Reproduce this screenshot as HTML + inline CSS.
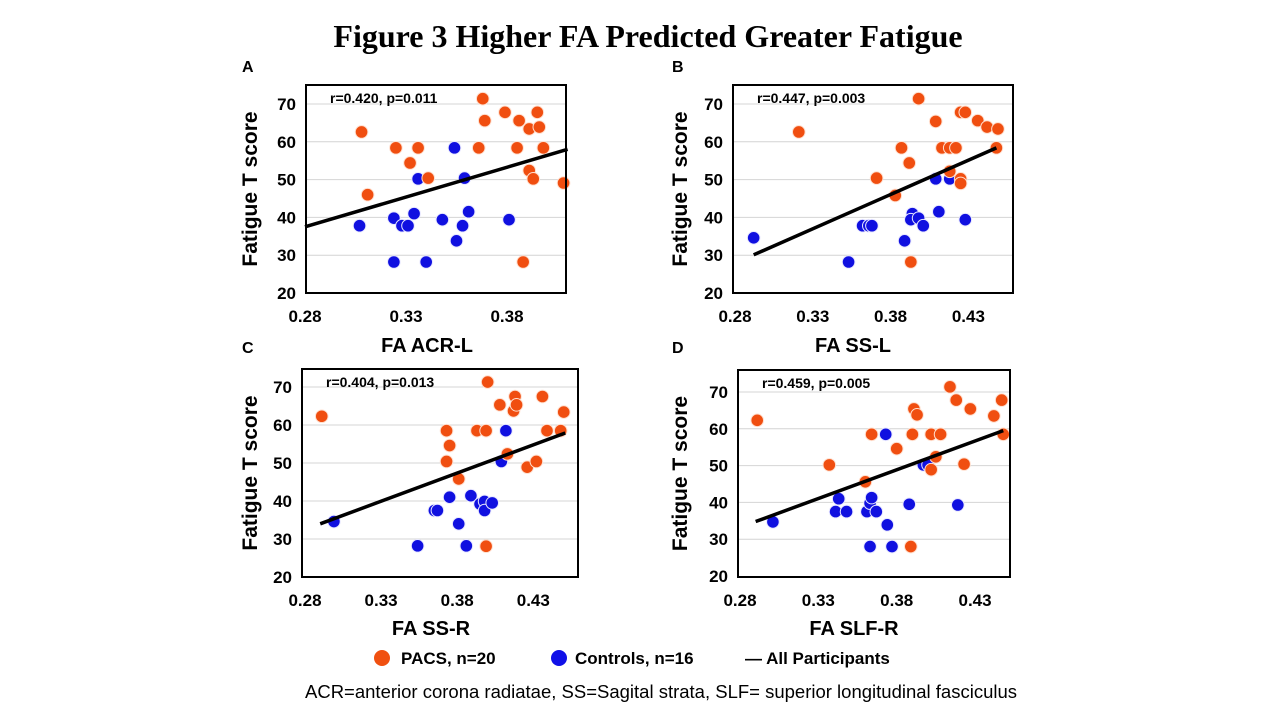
<!DOCTYPE html>
<html><head><meta charset="utf-8">
<style>
body{margin:0;background:#fff;}
svg{display:block;font-family:"Liberation Sans",Arial,sans-serif;}
</style></head>
<body>
<svg id="fig" width="1280" height="720" viewBox="0 0 1280 720">
<text x="648" y="47" text-anchor="middle" font-family="Liberation Serif,serif" font-weight="bold" font-size="32">Figure 3 Higher FA Predicted Greater Fatigue</text>
<g>
<circle cx="382" cy="658" r="8" fill="#f05010"/>
<text x="401" y="664" font-weight="bold" font-size="17">PACS, n=20</text>
<circle cx="559" cy="658" r="8" fill="#1010e8"/>
<text x="575" y="664" font-weight="bold" font-size="17">Controls, n=16</text>
<text x="745" y="664" font-weight="bold" font-size="17">— All Participants</text>
</g>
<text x="661" y="698" text-anchor="middle" font-size="18.5" textLength="712" lengthAdjust="spacingAndGlyphs">ACR=anterior corona radiatae, SS=Sagital strata, SLF= superior longitudinal fasciculus</text>
</svg>
<script>
// Panel A data
const aPacsX=[0.308,0.311,0.325,0.336,0.332,0.341,0.368,0.369,0.366,0.379,0.386,0.385,0.391,0.395,0.396,0.398,0.391,0.393,0.388,0.408];
const aPacsY=[62.6,46,58.4,58.4,54.4,50.4,71.4,65.6,58.4,67.8,65.6,58.4,63.4,67.8,63.9,58.4,52.4,50.2,28.2,49.1];
const aCtrlX=[0.307,0.324,0.328,0.331,0.334,0.336,0.324,0.340,0.348,0.354,0.355,0.358,0.359,0.361,0.381];
const aCtrlY=[37.8,39.8,37.8,37.8,41,50.2,28.2,28.2,39.4,58.4,33.8,37.8,50.4,41.5,39.4];
const aLineX=[0.28,0.41];const aLineY=[37.5,58];
// Panel B data
const bPacsX=[0.321,0.371,0.383,0.387,0.392,0.398,0.393,0.409,0.413,0.418,0.422,0.418,0.425,0.428,0.425,0.425,0.436,0.442,0.449,0.448];
const bPacsY=[62.6,50.4,45.8,58.4,54.4,71.4,28.2,65.4,58.4,58.4,58.4,52.2,67.8,67.8,50.2,49,65.6,63.9,63.4,58.4];
const bCtrlX=[0.292,0.353,0.362,0.366,0.368,0.389,0.394,0.393,0.398,0.401,0.409,0.411,0.418,0.428];
const bCtrlY=[34.6,28.2,37.8,37.8,37.8,33.8,41,39.4,39.8,37.8,50.2,41.5,50.2,39.4];
const bLineX=[0.292,0.448];const bLineY=[30.1,58.4];
// Panel C data
const cPacsX=[0.291,0.373,0.375,0.373,0.381,0.393,0.399,0.400,0.399,0.408,0.413,0.417,0.418,0.419,0.426,0.432,0.436,0.439,0.448,0.450];
const cPacsY=[62.3,58.5,54.6,50.4,45.8,58.5,58.5,71.3,28.1,65.3,52.4,63.7,67.5,65.3,48.9,50.4,67.5,58.5,58.5,63.4];
const cCtrlX=[0.299,0.354,0.365,0.367,0.375,0.381,0.386,0.389,0.395,0.398,0.398,0.403,0.409,0.412];
const cCtrlY=[34.6,28.2,37.5,37.5,41,34,28.2,41.4,39.2,39.9,37.5,39.5,50.4,58.5];
const cLineX=[0.290,0.451];const cLineY=[34.0,57.9];
// Panel D data
const dPacsX=[0.291,0.337,0.360,0.364,0.380,0.390,0.391,0.393,0.389,0.402,0.402,0.405,0.408,0.414,0.418,0.423,0.427,0.442,0.447,0.448];
const dPacsY=[62.3,50.2,45.6,58.5,54.6,58.5,65.4,63.8,28,58.5,48.9,52.4,58.5,71.4,67.8,50.4,65.4,63.5,67.8,58.5];
const dCtrlX=[0.301,0.341,0.343,0.348,0.361,0.363,0.363,0.364,0.367,0.373,0.374,0.377,0.388,0.397,0.400,0.419];
const dCtrlY=[34.7,37.5,41,37.5,37.5,28,39.8,41.3,37.5,58.5,33.9,28,39.5,50.2,50.2,39.3];
const dLineX=[0.290,0.448];const dLineY=[34.8,59.5];
const yTicks=[20,30,40,50,60,70];
const xTicks=[0.28,0.33,0.38,0.43];

const NS="http://www.w3.org/2000/svg";
const svg=document.getElementById('fig');
function mk(tag,attrs,parent){const e=document.createElementNS(NS,tag);for(const k in attrs)e.setAttribute(k,attrs[k]);parent.appendChild(e);return e;}

const panels=[
 {id:'a',letter:'A',L:306,R:566,T:85,B:293,x0:305,xs:2020,y20:293,y70:104,stat:'r=0.420, p=0.011',xt:'FA ACR-L',xtY:352,lx:242,ly:72,ytx:257,pX:aPacsX,pY:aPacsY,cX:aCtrlX,cY:aCtrlY,lX:aLineX,lY:aLineY,maxT:3},
 {id:'b',letter:'B',L:733,R:1013,T:85,B:293,x0:735,xs:1556,y20:293,y70:104,stat:'r=0.447, p=0.003',xt:'FA SS-L',xtY:352,lx:672,ly:72,ytx:687,pX:bPacsX,pY:bPacsY,cX:bCtrlX,cY:bCtrlY,lX:bLineX,lY:bLineY,maxT:4},
 {id:'c',letter:'C',L:302,R:578,T:369,B:577,x0:305,xs:1522,y20:577,y70:387,stat:'r=0.404, p=0.013',xt:'FA SS-R',xtY:635,lx:242,ly:353,ytx:257,pX:cPacsX,pY:cPacsY,cX:cCtrlX,cY:cCtrlY,lX:cLineX,lY:cLineY,maxT:4},
 {id:'d',letter:'D',L:738,R:1010,T:370,B:577,x0:740,xs:1567,y20:576,y70:392,stat:'r=0.459, p=0.005',xt:'FA SLF-R',xtY:635,lx:672,ly:353,ytx:687,pX:dPacsX,pY:dPacsY,cX:dCtrlX,cY:dCtrlY,lX:dLineX,lY:dLineY,maxT:4}
];
panels.forEach(p=>{
 const g=mk('g',{},svg);
 
 
 const X=v=>p.x0+(v-0.28)*p.xs;
 const Y=v=>p.y20-(v-20)*(p.y20-p.y70)/50;
 const lt=mk('text',{x:p.lx,y:p.ly,'font-weight':'bold','font-size':16},g);lt.textContent=p.letter;
 
 
 yTicks.forEach(t=>{
  if(t>20){const gl=mk('line',{x1:p.L,x2:p.R,y1:Y(t),y2:Y(t),stroke:'#d4d4d4','stroke-width':1},g);
   
   }
  const tx=mk('text',{x:p.L-10,y:Y(t)+6,'text-anchor':'end','font-weight':'bold','font-size':17},g);tx.textContent=t;
  
  
 });
 xTicks.slice(0,p.maxT).forEach(t=>{
  const tx=mk('text',{x:X(t),y:p.B+29,'text-anchor':'middle','font-weight':'bold','font-size':17},g);tx.textContent=t.toFixed(2);
  
  
 });
 const st=mk('text',{x:p.L+24,y:p.T+18,'font-weight':'bold','font-size':14},g);st.textContent=p.stat;
 
 
 const xt=mk('text',{x:(p.L+p.R)/2+(p.id==='a'||p.id==='c'?-9:-20),y:p.xtY,'text-anchor':'middle','font-weight':'bold','font-size':20},g);xt.textContent=p.xt;
 
 
 const cy=(p.T+p.B)/2;
 const yt=mk('text',{x:p.ytx,y:cy,'text-anchor':'middle','font-weight':'bold','font-size':21,transform:`rotate(-90 ${p.ytx} ${cy})`},g);yt.textContent='Fatigue T score';
 
 
 p.cX.forEach((v,i)=>{const c=mk('circle',{cx:X(v),cy:Y(p.cY[i]),r:6.3,fill:'#1010e0',stroke:'#e8e8ff','stroke-width':1},g);
  
  });
 p.pX.forEach((v,i)=>{const c=mk('circle',{cx:X(v),cy:Y(p.pY[i]),r:6.3,fill:'#f04e10',stroke:'#ffe0d0','stroke-width':1},g);
  
  });
 const ln=mk('line',{x1:X(p.lX[0]),y1:Y(p.lY[0]),x2:X(p.lX[1]),y2:Y(p.lY[1]),stroke:'#000','stroke-width':3.5},g);
 
 
 const bx=mk('rect',{x:p.L,y:p.T,width:p.R-p.L,height:p.B-p.T,fill:'none',stroke:'#000','stroke-width':2},g);
 
 
});
</script>
</body></html>
